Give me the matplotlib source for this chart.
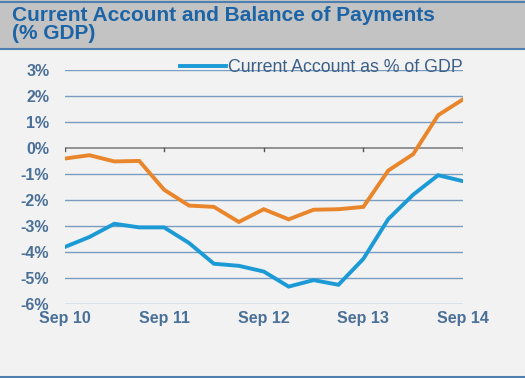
import matplotlib
matplotlib.use("Agg")
import matplotlib.pyplot as plt
from matplotlib.lines import Line2D
from matplotlib.patches import Rectangle

quarters = ["Sep 10", "Dec 10", "Mar 11", "Jun 11", "Sep 11", "Dec 11", "Mar 12", "Jun 12",
            "Sep 12", "Dec 12", "Mar 13", "Jun 13", "Sep 13", "Dec 13", "Mar 14", "Jun 14", "Sep 14"]
current_account = [-3.81, -3.42, -2.91, -3.05, -3.05, -3.65, -4.45, -4.53,
                   -4.75, -5.33, -5.08, -5.26, -4.26, -2.73, -1.79, -1.04, -1.27]
balance_of_payments = [-0.40, -0.27, -0.51, -0.49, -1.60, -2.21, -2.26, -2.84,
                       -2.35, -2.74, -2.37, -2.35, -2.26, -0.86, -0.23, 1.27, 1.88]
y_ticks = [3, 2, 1, 0, -1, -2, -3, -4, -5, -6]
x_tick_labels = ["Sep 10", "Sep 11", "Sep 12", "Sep 13", "Sep 14"]
title_text = "Current Account and Balance of Payments\n(% GDP)"
legend_label = "Current Account as % of GDP"

BLUE = "#1b9ad6"
ORANGE = "#e9852a"
GRID = "#7a9cc0"
LABEL = "#4a7098"
BG = "#f2f2f2"

plt.rcParams['font.family'] = ['Liberation Sans', 'DejaVu Sans']

fig = plt.figure(figsize=(5.25, 3.78), dpi=100)
fig.patch.set_facecolor(BG)
W, H = 525, 378

# title band
fig.patches.append(Rectangle((0, 1 - 48 / H), 1, 48 / H, transform=fig.transFigure,
                             facecolor="#c3c3c3", edgecolor="none", zorder=0))
fig.lines.append(Line2D([0, 1], [1 - 1.5 / H, 1 - 1.5 / H], transform=fig.transFigure,
                        color="#4f7fae", lw=1.5))
fig.lines.append(Line2D([0, 1], [1 - 48.5 / H, 1 - 48.5 / H], transform=fig.transFigure,
                        color="#4f7fae", lw=1.5))
fig.lines.append(Line2D([0, 1], [1.5 / H, 1.5 / H], transform=fig.transFigure,
                        color="#4f7fae", lw=1.5))
fig.text(12 / W, 1 - 6 / H, title_text, ha="left", va="top", fontsize=15,
         fontweight="bold", color="#1d64a6", linespacing=0.93)

x0, x1 = 64.5, 463
yt, yb = 70.3, 304
ax = fig.add_axes([x0 / W, 1 - yb / H, (x1 - x0) / W, (yb - yt) / H])
ax.set_facecolor(BG)
ax.patch.set_alpha(0)

xs = list(range(len(quarters)))
for v in y_ticks:
    if v != 0:
        ax.axhline(v, color=GRID, lw=1.0, zorder=1)
ax.axhline(0, color="#8a8a8a", lw=1.3, zorder=1)
for i, q in enumerate(quarters):
    if q in x_tick_labels:
        ax.plot([i, i], [0, -0.1], color="#555555", lw=1.0, zorder=1)

ax.plot(xs, balance_of_payments, color=ORANGE, lw=2.8, zorder=3, solid_joinstyle="miter")
ax.plot(xs, current_account, color=BLUE, lw=2.8, zorder=3, label=legend_label,
        solid_joinstyle="miter")

ax.set_xlim(0, len(quarters) - 1)
ax.set_ylim(-6, 3)
ax.set_yticks(y_ticks)
ax.set_yticklabels([f"{v}%" for v in y_ticks])
ax.set_xticks([i for i, q in enumerate(quarters) if q in x_tick_labels])
ax.set_xticklabels(x_tick_labels)
ax.tick_params(axis="both", length=0, labelsize=11.5, labelcolor=LABEL)
ax.tick_params(axis="y", pad=11)
ax.tick_params(axis="x", pad=5)
for lab in ax.get_yticklabels() + ax.get_xticklabels():
    lab.set_fontweight("bold")
for s in ax.spines.values():
    s.set_visible(False)

leg = ax.legend(loc="lower right", bbox_to_anchor=(1.0, 0.975), frameon=False,
                handlelength=2.6, handletextpad=0.1, borderaxespad=0, borderpad=0,
                fontsize=12.8)
for t in leg.get_texts():
    t.set_color("#3d5f86")

fig.savefig("out.png", dpi=100, facecolor=BG)
